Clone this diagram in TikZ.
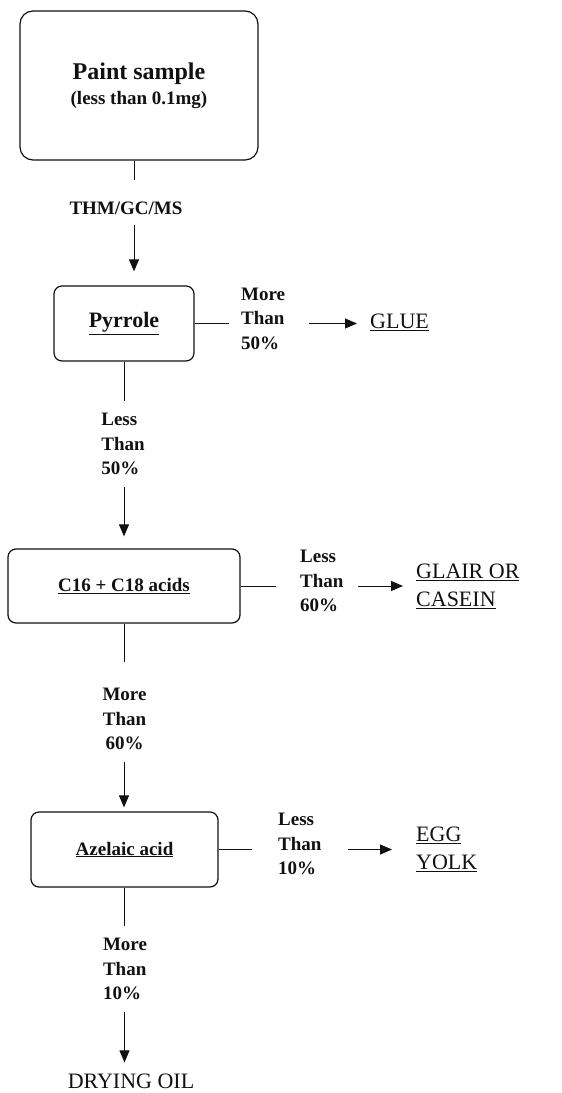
\documentclass[tikz,border=0pt]{standalone}
\usepackage{fontspec}
\setmainfont{Liberation Serif}
\usetikzlibrary{arrows.meta,positioning}
\definecolor{flowink}{HTML}{111111}
\tikzset{
  bx/.style={draw=flowink, line width=1.2pt, rounded corners=8pt, inner sep=0pt, align=center, text=flowink, font={\bfseries\fontsize{19}{25}\selectfont}},
  lbl/.style={align=left, inner xsep=0pt, inner ysep=12pt, text=flowink, font={\bfseries\fontsize{19}{24.5}\selectfont}},
  res/.style={align=left, inner sep=0pt, text=flowink, font={\fontsize{22}{28}\selectfont}},
  ln/.style={draw=flowink, line width=1pt},
  arr/.style={ln, -{Triangle[length=12pt, width=10pt]}},
}
\begin{document}
\begin{tikzpicture}[x=1pt, y=-1pt]
  \useasboundingbox (0,0) rectangle (562,1093);
  % test boxes
  \node[bx, rounded corners=13pt, minimum width=238pt, minimum height=149pt] (paint) at (139,85.5) {{\fontsize{24}{26}\selectfont Paint sample}\\(less than 0.1mg)};
  \node[bx, minimum width=140pt, minimum height=75pt, font={\bfseries\fontsize{22}{26}\selectfont}] (pyr) at (124,323.5) {\underline{Pyrrole}};
  \node[bx, minimum width=232pt, minimum height=74pt] (c16) at (124,586) {\underline{C16 + C18 acids}};
  \node[bx, minimum width=187pt, minimum height=75pt] (aze) at (124.5,849.5) {\underline{Azelaic acid}};
  % thresholds
  \node[lbl, inner ysep=0pt] (thm) at (126,208) {THM/GC/MS};
  \node[lbl] (l2) at (123,444) {Less\\Than\\50\%};
  \node[lbl, align=center] (l4) at (124.5,719) {More\\Than\\60\%};
  \node[lbl] (l6) at (125,969) {More\\Than\\10\%};
  \node[lbl, anchor=west, inner ysep=0pt] (l1) at (241,318.5) {More\\Than\\50\%};
  \node[lbl, anchor=west, inner ysep=0pt] (l3) at (300,581) {Less\\Than\\60\%};
  \node[lbl, anchor=west, inner ysep=0pt] (l5) at (278,844) {Less\\Than\\10\%};
  % binders
  \node[res, anchor=west] (glue) at (370,322) {\underline{GLUE}};
  \node[res, anchor=west] (glair) at (416,586) {\underline{GLAIR OR}\\\underline{CASEIN}};
  \node[res, anchor=west] (egg) at (416,849) {\underline{EGG}\\\underline{YOLK}};
  \node[res] (dry) at (131,1081) {DRYING OIL};
  \draw[ln, shorten >=21pt] ([xshift=-5pt]paint.south) -- ([xshift=8pt]thm.north);
  \draw[arr, shorten <=10pt, shorten >=14pt] ([xshift=8pt]thm.south) -- ([xshift=8pt]thm.south |- pyr.north);
  \foreach \a/\b/\c/\s/\t in {pyr/l2/c16/0/12, c16/l4/aze/14/4, aze/l6/dry/0/11} {
    \draw[ln, shorten >=\s pt] (\a.south) -- (\a.south |- \b.north);
    \draw[arr, shorten >=\t pt] (\a.south |- \b.south) -- (\a.south |- \c.north);
  }
  \foreach \a/\b/\c/\p/\q/\r in {pyr/l1/glue/12/24/13, c16/l3/glair/24/14/13, aze/l5/egg/26/26/24} {
    \draw[ln, shorten >=\p pt] (\a.east) -- (\a.east -| \b.west);
    \draw[arr, shorten <=\q pt, shorten >=\r pt] (\b.east |- \a.east) -- (\a.east -| \c.west);
  }
\end{tikzpicture}
\end{document}
